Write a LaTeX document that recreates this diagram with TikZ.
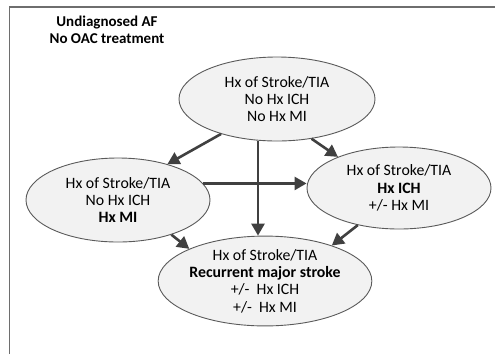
\documentclass[tikz,border=0pt]{standalone}
\usepackage{fontspec}
\setmainfont{Carlito}
\usetikzlibrary{shapes.geometric,arrows.meta}
\definecolor{arrowgray}{HTML}{404040}
\definecolor{ellfill}{HTML}{F2F2F2}
\definecolor{ellline}{HTML}{5A5A5A}
\definecolor{framegray}{HTML}{6E6E6E}
\tikzset{
  state/.style={ellipse, draw=ellline, line width=0.9pt, fill=ellfill, inner sep=0pt,
    align=center, font=\fontsize{15.8}{17.3}\selectfont},
  flow/.style={draw=arrowgray, line width=2.6pt,
    -{Triangle[length=12pt,width=13pt]}},
  header/.style={align=center, font=\fontsize{15}{16.5}\selectfont\bfseries}
}
\begin{document}
\begin{tikzpicture}[x=1pt,y=-1pt]
  \useasboundingbox (0,0) rectangle (495,354);
  % open frame: top and left edges only
  \draw[framegray, line width=1.4pt] (9.5,354) -- (9.5,7) -- (495,7);

  \node[header] (title) at (107,30) {Undiagnosed AF\\No OAC treatment};

  \node[state, minimum width=196pt, minimum height=84pt] (top) at (277,99)
    {Hx of Stroke/TIA\\No Hx ICH\\No Hx MI};
  \node[state, minimum width=184pt, minimum height=84pt] (left) at (118,200)
    {Hx of Stroke/TIA\\No Hx ICH\\\textbf{Hx MI}};
  \node[state, minimum width=184pt, minimum height=82pt] (right) at (399,188)
    {Hx of Stroke/TIA\\\textbf{Hx ICH}\\+/- Hx MI};
  \node[state, minimum width=176pt, minimum height=88pt] (bot) at (265,281)
    {Hx of Stroke/TIA\\\textbf{Recurrent major stroke}\\+/-\ \ Hx ICH\\+/-\ \ Hx MI};

  \coordinate (vx) at (258,0);
  \draw[flow] (top.212) -- (left.36);
  \draw[flow] (top.311) -- (right.153);
  \draw[flow] (top.south -| vx) -- (bot.north -| vx);
  \draw[flow] (left.11) -- (left.11 -| right.west);
  \draw[flow] (left.327) -- (bot.157);
  \draw[flow] (right.222) -- (bot.28);
\end{tikzpicture}
\end{document}
